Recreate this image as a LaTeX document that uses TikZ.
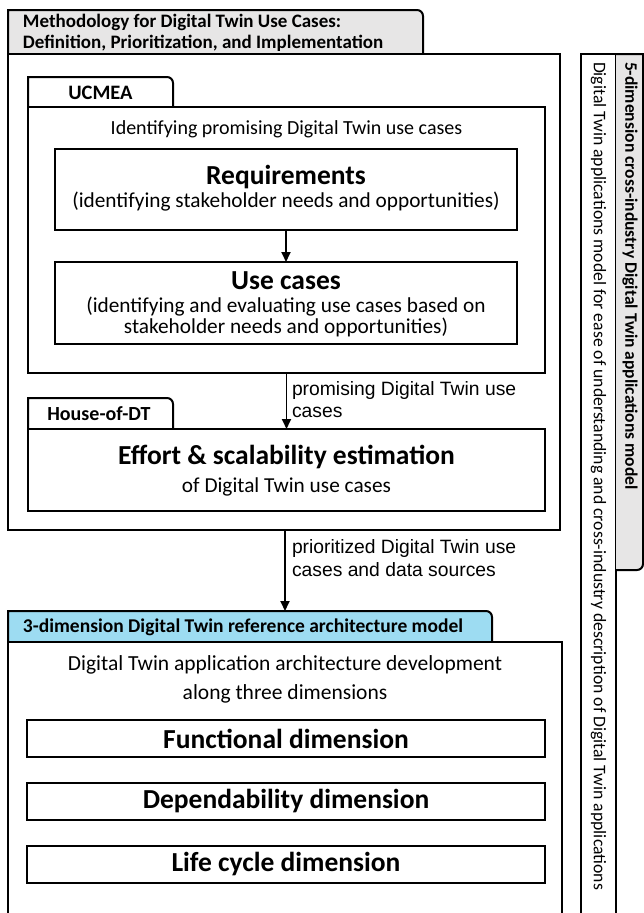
\documentclass[tikz,border=0pt]{standalone}
\usepackage{fontspec}
\setmainfont{Carlito}
\newfontfamily\arialf{Liberation Sans}
\usetikzlibrary{arrows.meta}
\definecolor{tabgray}{RGB}{231,230,230}
\definecolor{tabblue}{RGB}{157,220,242}
\newcommand{\fsz}[2]{\fontsize{#1}{#2}\selectfont}
\begin{document}
\begin{tikzpicture}[x=1pt,y=-1pt,
  framebox/.style={draw=black,line width=2pt,rectangle,inner sep=0pt,outer sep=0pt},
  inbox/.style={draw=black,line width=1.8pt,rectangle,inner sep=0pt,outer sep=0pt},
  tabline/.style={draw=black,line width=2pt},
  txt/.style={inner sep=0pt,outer sep=0pt,align=center},
  big/.style={txt,font=\bfseries\fsz{27.5}{30}},
  sub/.style={txt,font=\fsz{21.3}{21.5}},
  tabtxt/.style={txt,font=\bfseries\fsz{19.5}{21}},
  arr/.style={line width=1.8pt,-{Triangle[length=10pt,width=9pt]}},
  lbl/.style={inner sep=0pt,outer sep=0pt,anchor=west,align=left,font=\arialf\fsz{19.3}{22.5}}
]
\useasboundingbox (0,0) rectangle (644,913);
\fill[white] (0,0) rectangle (644,913);

% ---------- right panel ----------
\node[framebox,minimum width=35pt,minimum height=871pt] (dimbox) at (598.5,489.5) {};
\draw[tabline,fill=tabgray] (616,54) -- (643,54) -- (643,564) arc[start angle=0,end angle=90,radius=6] -- (616,570);
\node[txt,rotate=-90,anchor=west,font=\bfseries\fsz{17.5}{20}] (dimtitle) at (630,62) {5-dimension cross-industry Digital Twin applications model};
\node[txt,rotate=-90,anchor=west,font=\fsz{17.7}{20}] (dimdesc) at (598.5,62) {Digital Twin applications model for ease of understanding and cross-industry description of Digital Twin applications};

% ---------- methodology ----------
\draw[tabline,fill=tabgray] (8,54) -- (8,10) -- (417,10) arc[start angle=270,end angle=360,radius=6] -- (423,54);
\node[txt,anchor=west,align=left,font=\bfseries\fsz{19}{21}] (methtitle) at (23,32.5) {Methodology for Digital Twin Use Cases:\\Definition, Prioritization, and Implementation};
\node[framebox,minimum width=552pt,minimum height=476pt] (meth) at (284,292) {};

% UCMEA
\draw[tabline,fill=white] (28,107) -- (28,77) -- (167,77) arc[start angle=270,end angle=360,radius=6] -- (173,107);
\node[tabtxt,font=\bfseries\fsz{20.5}{21}] (ucmeatitle) at (100.5,93) {UCMEA};
\node[framebox,minimum width=517pt,minimum height=266pt] (ucmea) at (286.5,240) {};
\node[sub,font=\fsz{20}{20}] (ucmeadesc) at (286.5,129) {Identifying promising Digital Twin use cases};

\node[inbox,minimum width=462pt,minimum height=81pt] (req) at (286,189.5) {};
\node[big] (reqt) at (286,177.5) {Requirements};
\node[sub] (reqs) at (286,202) {(identifying stakeholder needs and opportunities)};

\node[inbox,minimum width=462pt,minimum height=82pt] (uc) at (286,303) {};
\node[big] (uct) at (286,280.5) {Use cases};
\node[sub,font=\fsz{21.3}{20.5}] (ucs) at (286,317) {(identifying and evaluating use cases based on\\stakeholder needs and opportunities)};

\draw[arr] (req.south) -- (uc.north);

% House-of-DT
\draw[tabline,fill=white] (28,429) -- (28,398) -- (167,398) arc[start angle=270,end angle=360,radius=6] -- (173,429);
\node[tabtxt,font=\bfseries\fsz{20}{21}] (housetitle) at (99,414) {House-of-DT};
\node[framebox,minimum width=517pt,minimum height=82pt] (house) at (286.5,470) {};
\node[big] (houset) at (286.5,457) {Effort \& scalability estimation};
\node[sub] (houses) at (286.5,487) {of Digital Twin use cases};

\draw[arr] (ucmea.south) -- (house.north);
\node[lbl] (lbl1) at (292,399.5) {promising Digital Twin use\\cases};

% ---------- architecture ----------
\coordinate (archtop) at (285,611);
\draw[arr] (meth.south -| archtop) -- (archtop);
\node[lbl] (lbl2) at (292,558) {prioritized Digital Twin use\\cases and data sources};

\draw[tabline,fill=tabblue] (8,642) -- (8,611) -- (486,611) arc[start angle=270,end angle=360,radius=6] -- (492,642);
\node[tabtxt,anchor=west] (archtitle) at (23,627) {3-dimension Digital Twin reference architecture model};
\node[framebox,minimum width=554pt,minimum height=290pt] (arch) at (285,787) {};
\node[sub,font=\fsz{21.5}{29}] (archdesc) at (285,679.5) {Digital Twin application architecture development\\along three dimensions};

\node[inbox,minimum width=518pt,minimum height=37pt] (func) at (286,738.5) {};
\node[big] (funct) at (func.center) {Functional dimension};
\node[inbox,minimum width=518pt,minimum height=37pt] (dep) at (286,801.5) {};
\node[big] (dept) at (dep.center) {Dependability dimension};
\node[inbox,minimum width=518pt,minimum height=37pt] (life) at (286,864.5) {};
\node[big] (lifet) at (life.center) {Life cycle dimension};
\end{tikzpicture}
\end{document}
